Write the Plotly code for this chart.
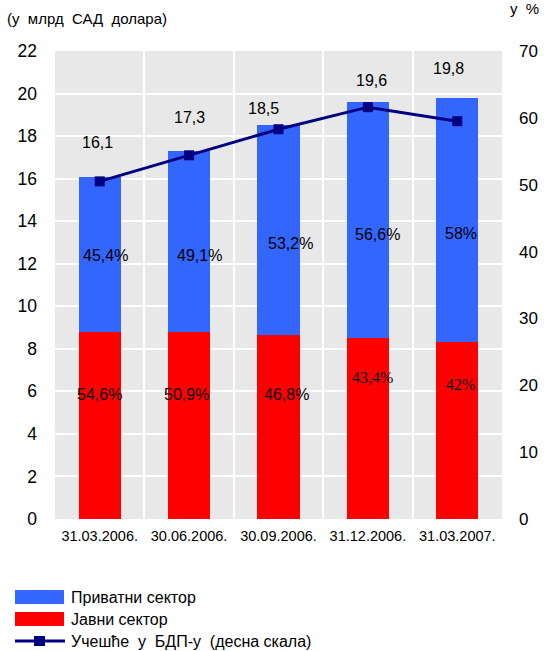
import plotly.graph_objects as go

# Quarter-end dates
dates = ["31.03.2006.", "30.06.2006.", "30.09.2006.", "31.12.2006.", "31.03.2007."]
# Total external debt, bn USD
total_debt = [16.1, 17.3, 18.5, 19.6, 19.8]
# Sector shares of the total, %
private_share = [45.4, 49.1, 53.2, 56.6, 58.0]
public_share = [54.6, 50.9, 46.8, 43.4, 42.0]
# Debt as share of GDP, % (right axis)
gdp_share = [50.5, 54.4, 58.3, 61.6, 59.5]

public_debt = [t * p / 100 for t, p in zip(total_debt, public_share)]
private_debt = [t - p for t, p in zip(total_debt, public_debt)]

BLUE = "#3366FF"
RED = "#FF0000"
NAVY = "#000080"
GREY = "#E8E8E8"
FONT = "Liberation Sans, Arial, sans-serif"
SERIF = "Liberation Serif, Times New Roman, serif"

W, H = 552, 651
L, R, T, B = 55, 50, 51, 132


def fmt(v):
    return f"{v:g}".replace(".", ",")


def px(xp, yp):
    """Pixel position -> paper coordinates."""
    return (xp - L) / (W - L - R), (H - B - yp) / (H - T - B)


fig = go.Figure()
fig.add_trace(go.Bar(x=dates, y=public_debt, marker=dict(color=RED, line_width=0),
                     name="Јавни сектор", showlegend=False))
fig.add_trace(go.Bar(x=dates, y=private_debt, marker=dict(color=BLUE, line_width=0),
                     name="Приватни сектор", showlegend=False))
fig.add_trace(go.Scatter(x=dates, y=gdp_share, yaxis="y2", mode="lines+markers",
                         line=dict(color=NAVY, width=3),
                         marker=dict(symbol="square", size=10, color=NAVY),
                         name="Учешће у БДП-у (десна скала)", showlegend=False))

annotations = []

# Totals above the bars
total_label_y = [17.72, 18.89, 19.31, 20.63, 21.19]
total_label_dx = [-2, 0, -15, 4, -9]
for d, t, y, dx in zip(dates, total_debt, total_label_y, total_label_dx):
    annotations.append(dict(x=d, y=y, text=fmt(t), showarrow=False, xshift=dx,
                            font=dict(family=FONT, size=16, color="black")))

# Private sector shares
priv_label_y = [12.41, 12.41, 12.97, 13.39, 13.44]
priv_label_dx = [6, 10, 12, 10, 4]
for d, s, y, dx in zip(dates, private_share, priv_label_y, priv_label_dx):
    annotations.append(dict(x=d, y=y, text=fmt(s) + "%", showarrow=False, xshift=dx,
                            font=dict(family=FONT, size=16, color="black")))

# Public sector shares
pub_label_y = [5.87, 5.87, 5.83, 6.63, 6.30]
pub_label_dx = [0, -3, 8, 5, 3]
pub_label_font = [FONT, FONT, FONT, SERIF, SERIF]
for d, s, y, dx, f in zip(dates, public_share, pub_label_y, pub_label_dx, pub_label_font):
    annotations.append(dict(x=d, y=y, text=fmt(s) + "%", showarrow=False, xshift=dx,
                            font=dict(family=f, size=16, color="black")))

# Axis unit captions
x0, y0 = px(5, 18)
annotations.append(dict(xref="paper", yref="paper", x=x0, y=y0, xanchor="left",
                        yanchor="middle", text="(у  млрд  САД  долара)", showarrow=False,
                        font=dict(family=FONT, size=15, color="black")))
x0, y0 = px(508, 8)
annotations.append(dict(xref="paper", yref="paper", x=x0, y=y0, xanchor="left",
                        yanchor="middle", text="у  %", showarrow=False,
                        font=dict(family=FONT, size=15, color="black")))

# Custom legend
shapes = []
legend_rows = [("Приватни сектор", BLUE, 597, "box"),
               ("Јавни сектор", RED, 619, "box"),
               ("Учешће  у  БДП-у  (десна скала)", NAVY, 641, "line")]
for label, color, yc, kind in legend_rows:
    if kind == "box":
        xa, ya = px(15, yc - 7)
        xb, yb = px(64, yc + 7)
        shapes.append(dict(type="rect", xref="paper", yref="paper", x0=xa, x1=xb,
                           y0=ya, y1=yb, fillcolor=color, line_width=0, layer="above"))
    else:
        xa, ya = px(15, yc)
        xb, _ = px(65, yc)
        shapes.append(dict(type="line", xref="paper", yref="paper", x0=xa, x1=xb,
                           y0=ya, y1=ya, line=dict(color=color, width=3), layer="above"))
        xa, ya = px(34, yc - 5)
        xb, yb = px(45, yc + 5)
        shapes.append(dict(type="rect", xref="paper", yref="paper", x0=xa, x1=xb,
                           y0=ya, y1=yb, fillcolor=color, line_width=0, layer="above"))
    xt, yt = px(69, yc)
    annotations.append(dict(xref="paper", yref="paper", x=xt, y=yt, xanchor="left",
                            yanchor="middle", text=label, showarrow=False,
                            font=dict(family=FONT, size=16, color="black")))

fig.update_layout(
    width=W, height=H,
    margin=dict(l=L, r=R, t=T, b=B, pad=0),
    paper_bgcolor="white",
    plot_bgcolor=GREY,
    barmode="stack",
    bargap=0.53,
    showlegend=False,
    annotations=annotations,
    shapes=shapes,
    xaxis=dict(type="category", tickson="boundaries", showgrid=True,
               gridcolor="white", gridwidth=2, ticks="", showline=False,
               tickfont=dict(family=FONT, size=14.5, color="black"),
               ticklabelstandoff=6),
    yaxis=dict(range=[0, 22], dtick=2, showgrid=True, gridcolor="white",
               gridwidth=2, zeroline=False, showline=False, ticks="",
               tickfont=dict(family=FONT, size=17.5, color="black"),
               ticklabelstandoff=17),
    yaxis2=dict(range=[0, 70], dtick=10, overlaying="y", side="right",
                showgrid=False, zeroline=False, showline=False, ticks="",
                tickfont=dict(family=FONT, size=17, color="black"),
                ticklabelstandoff=16),
)

fig.write_html("out.html")
